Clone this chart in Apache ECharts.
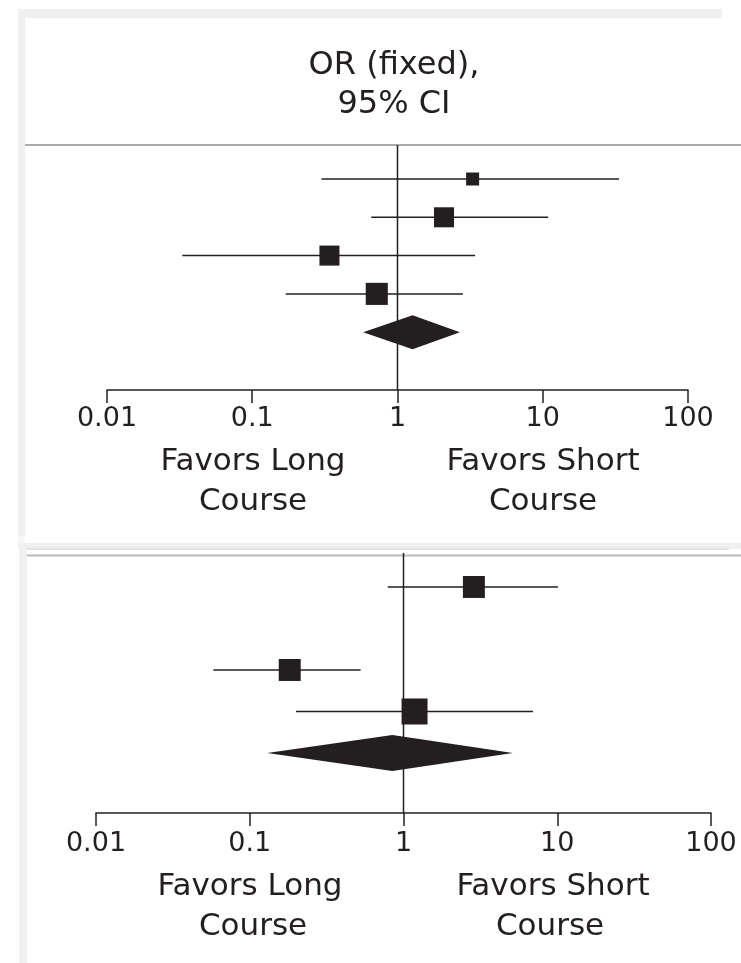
<!DOCTYPE html>
<html><head><meta charset="utf-8">
<script src="https://cdn.jsdelivr.net/npm/echarts@6/dist/echarts.min.js"></script>
<style>html,body{margin:0;padding:0;background:#fff}#c{width:741px;height:963px}</style>
</head><body><div id="c"></div>
<script>
// ---------- data ----------
const tickValues = [0.01, 0.1, 1, 10, 100];
const tickLabels = ['0.01', '0.1', '1', '10', '100'];
const headerLines = ['OR (fixed),', '95% CI'];
const favorsLeft = ['Favors Long', 'Course'];
const favorsRight = ['Favors Short', 'Course'];

// Panel A (top)
const aRows = [1, 2, 3, 4];
const aOR = [3.29, 2.09, 0.34, 0.72];
const aLow = [0.30, 0.66, 0.033, 0.17];
const aHigh = [33.5, 10.9, 3.42, 2.82];
const aWeight = [11.6, 27.5, 27.5, 33.4];
const aPooled = [1.27, 0.58, 2.69];   // OR, low, high
const aPooledRow = 5;

// Panel B (bottom)
const bRows = [1, 3, 4];
const bOR = [2.87, 0.182, 1.18];
const bLow = [0.79, 0.058, 0.20];
const bHigh = [10.1, 0.526, 6.96];
const bWeight = [29.4, 29.4, 41.2];
const bPooled = [0.846, 0.13, 5.14];
const bPooledRow = 5;

// ---------- rendering ----------
const INK = '#231f20';
const FONT = '"DejaVu Sans"';

function studyItem(scale) {
  return function (params, api) {
    const or = api.value(0), lo = api.value(1), hi = api.value(2), row = api.value(3), w = api.value(4);
    const pL = api.coord([lo, row]), pR = api.coord([hi, row]), pC = api.coord([or, row]);
    const s = scale * Math.sqrt(w);
    return { type: 'group', children: [
      { type: 'line', shape: { x1: pL[0], y1: pL[1], x2: pR[0], y2: pR[1] }, style: { stroke: INK, lineWidth: 1.5 } },
      { type: 'rect', shape: { x: pC[0] - s / 2, y: pC[1] - s / 2, width: s, height: s }, style: { fill: INK } }
    ]};
  };
}
function diamondItem(h) {
  return function (params, api) {
    const row = api.value(3);
    const c = api.coord([api.value(0), row]), l = api.coord([api.value(1), row]), r = api.coord([api.value(2), row]);
    return { type: 'polygon', shape: { points: [[l[0], c[1]], [c[0], c[1] - h / 2], [r[0], c[1]], [c[0], c[1] + h / 2]] }, style: { fill: INK } };
  };
}
function studyData(or, lo, hi, rows, w) { return or.map((v, i) => [v, lo[i], hi[i], rows[i], w[i]]); }

function tickFmt(value) {
  const i = tickValues.findIndex(t => Math.abs(Math.log10(t) - Math.log10(value)) < 1e-6);
  return i >= 0 ? tickLabels[i] : '';
}
function xAxis(gi, margin) {
  return {
    type: 'log', logBase: 10, gridIndex: gi, min: tickValues[0], max: tickValues[tickValues.length - 1],
    axisLine: { lineStyle: { color: INK, width: 1.5 } },
    axisTick: { length: 13, lineStyle: { color: INK, width: 1.5 } },
    axisLabel: { formatter: tickFmt, fontSize: 27, color: INK, fontFamily: FONT, margin: margin },
    splitLine: { show: false }, minorTick: { show: false }
  };
}
const yRangeA = [0.112, 6.51];
const yRangeB = [0.181, 6.446];

function txt(t, x, y, size) {
  return { type: 'text', silent: true, style: { text: t, x: x, y: y, fill: INK, fontSize: size, fontFamily: FONT, textAlign: 'center', textVerticalAlign: 'middle' } };
}

const chart = echarts.init(document.getElementById('c'), null, { renderer: 'canvas' });
chart.setOption({
  animation: false,
  backgroundColor: '#fff',
  grid: [
    { left: 107, width: 581, top: 145, height: 245 },
    { left: 96, width: 615, top: 553, height: 260 }
  ],
  xAxis: [xAxis(0, 15), xAxis(1, 17)],
  yAxis: [
    { type: 'value', gridIndex: 0, inverse: true, min: yRangeA[0], max: yRangeA[1], show: false },
    { type: 'value', gridIndex: 1, inverse: true, min: yRangeB[0], max: yRangeB[1], show: false }
  ],
  graphic: [
    { type: 'rect', z: -10, shape: { x: 18, y: 9, width: 704, height: 9 }, style: { fill: '#efefef' } },
    { type: 'rect', z: -10, shape: { x: 18, y: 9, width: 7, height: 527 }, style: { fill: '#efefef' } },
    { type: 'rect', z: -10, shape: { x: 18, y: 536, width: 7, height: 7 }, style: { fill: '#f6f6f6' } },
    { type: 'rect', z: -10, shape: { x: 18, y: 543, width: 723, height: 6 }, style: { fill: '#f0f0f0' } },
    { type: 'rect', z: -10, shape: { x: 25, y: 548, width: 704, height: 2 }, style: { fill: '#e4e4e4' } },
    { type: 'rect', z: -10, shape: { x: 19, y: 543, width: 8, height: 420 }, style: { fill: '#f0f0f0' } },
    { type: 'line', z: -10, shape: { x1: 25, y1: 145, x2: 741, y2: 145 }, style: { stroke: '#aaaaaa', lineWidth: 2 } },
    { type: 'line', z: -10, shape: { x1: 27, y1: 555.5, x2: 741, y2: 555.5 }, style: { stroke: '#bbbbbb', lineWidth: 2 } },
    txt(headerLines[0], 394, 66, 32),
    txt(headerLines[1], 394, 105, 32),
    txt(favorsLeft[0], 253, 462, 31),
    txt(favorsLeft[1], 253, 502, 31),
    txt(favorsRight[0], 543, 462, 31),
    txt(favorsRight[1], 543, 502, 31),
    txt(favorsLeft[0], 250, 887, 31),
    txt(favorsLeft[1], 253, 927, 31),
    txt(favorsRight[0], 553, 887, 31),
    txt(favorsRight[1], 550, 927, 31)
  ],
  series: [
    { type: 'line', xAxisIndex: 0, yAxisIndex: 0, data: [[1, yRangeA[0]], [1, yRangeA[1]]], symbol: 'none', lineStyle: { color: INK, width: 1.5 }, z: 1 },
    { type: 'custom', xAxisIndex: 0, yAxisIndex: 0, renderItem: studyItem(3.82), encode: { x: [0, 1, 2], y: 3 },
      data: studyData(aOR, aLow, aHigh, aRows, aWeight), z: 2 },
    { type: 'custom', xAxisIndex: 0, yAxisIndex: 0, renderItem: diamondItem(34), encode: { x: [0, 1, 2], y: 3 },
      data: [[aPooled[0], aPooled[1], aPooled[2], aPooledRow]], z: 2 },
    { type: 'line', xAxisIndex: 1, yAxisIndex: 1, data: [[1, yRangeB[0]], [1, yRangeB[1]]], symbol: 'none', lineStyle: { color: INK, width: 1.5 }, z: 1 },
    { type: 'custom', xAxisIndex: 1, yAxisIndex: 1, renderItem: studyItem(4.05), encode: { x: [0, 1, 2], y: 3 },
      data: studyData(bOR, bLow, bHigh, bRows, bWeight), z: 2 },
    { type: 'custom', xAxisIndex: 1, yAxisIndex: 1, renderItem: diamondItem(36), encode: { x: [0, 1, 2], y: 3 },
      data: [[bPooled[0], bPooled[1], bPooled[2], bPooledRow]], z: 2 }
  ]
});
</script>
</body></html>
